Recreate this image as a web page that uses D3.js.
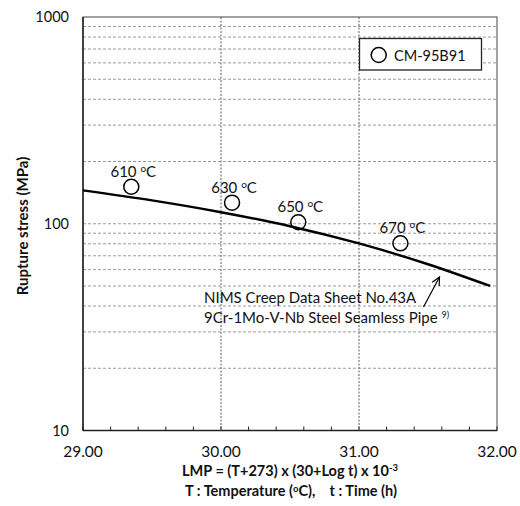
<!DOCTYPE html>
<html>
<head>
<meta charset="utf-8">
<script src="https://cdn.jsdelivr.net/npm/d3@7"></script>
<style>
  html, body { margin: 0; padding: 0; background: #fff; }
  svg { display: block; font-family: Lato, "Open Sans", sans-serif; }
</style>
</head>
<body>
<svg id="chart" width="520" height="506"></svg>
<script>
// ---- data ----
const curveLMP = [29.0, 29.5, 30.0, 30.5, 31.0, 31.5, 31.95];
const curveStress = [145, 129.7, 113.7, 97.3, 80.3, 63.7, 50.0];

const pointLMP = [29.35, 30.08, 30.56, 31.30];
const pointStress = [151, 126.5, 101.7, 80.4];
const pointTemps = ["610", "630", "650", "670"];

const xTickValues = [29, 30, 31, 32];
const xTickLabels = ["29.00", "30.00", "31.00", "32.00"];
const xMinorTicks = d3.range(29, 32.001, 0.2);
const yTickValues = [10, 100, 1000];
const yTickLabels = ["10", "100", "1000"];
const yGridValues = [20, 30, 40, 50, 60, 70, 80, 90, 100, 200, 300, 400, 500, 600, 700, 800, 900];
const xGridValues = [30, 31];

const legendLabel = "CM-95B91";
const sourceLines = ["NIMS Creep Data Sheet No.43A", "9Cr-1Mo-V-Nb Steel Seamless Pipe"];

// ---- layout ----
const svg = d3.select("#chart");
const m = { left: 83, right: 497, top: 17, bottom: 430.5 };
const x = d3.scaleLinear().domain([29, 32]).range([m.left, m.right]);
const y = d3.scaleLog().domain([10, 1000]).range([m.bottom, m.top]);

// gridlines
svg.append("g").selectAll("line").data(yGridValues).join("line")
  .attr("x1", m.left).attr("x2", m.right)
  .attr("y1", d => y(d)).attr("y2", d => y(d))
  .attr("stroke", "#9a9a9a").attr("stroke-width", 1)
  .attr("stroke-dasharray", "3,2");

svg.append("g").selectAll("line").data(xGridValues).join("line")
  .attr("x1", d => x(d)).attr("x2", d => x(d))
  .attr("y1", m.top).attr("y2", m.bottom)
  .attr("stroke", "#777").attr("stroke-width", 1.2)
  .attr("stroke-dasharray", "2,1.5");

// frame
svg.append("rect")
  .attr("x", m.left).attr("y", m.top)
  .attr("width", m.right - m.left).attr("height", m.bottom - m.top)
  .attr("fill", "none").attr("stroke", "#444").attr("stroke-width", 1);
svg.append("line").attr("x1", m.left).attr("x2", m.left).attr("y1", m.top).attr("y2", m.bottom)
  .attr("stroke", "#222").attr("stroke-width", 1.5);
svg.append("line").attr("x1", m.left).attr("x2", m.right).attr("y1", m.bottom).attr("y2", m.bottom)
  .attr("stroke", "#222").attr("stroke-width", 1.5);

// minor x ticks (inward)
svg.append("g").selectAll("line").data(xMinorTicks).join("line")
  .attr("x1", d => x(d)).attr("x2", d => x(d))
  .attr("y1", m.bottom).attr("y2", m.bottom - 4)
  .attr("stroke", "#222").attr("stroke-width", 1);

// x tick labels
svg.append("g").selectAll("text").data(xTickValues).join("text")
  .attr("x", d => x(d)).attr("y", 457)
  .attr("text-anchor", "middle").attr("font-size", 15.5).attr("fill", "#111")
  .text((d, i) => xTickLabels[i]);

// y tick labels
svg.append("g").selectAll("text").data(yTickValues).join("text")
  .attr("x", 69).attr("y", d => y(d) + 5)
  .attr("text-anchor", "end").attr("font-size", 14.5).attr("fill", "#111")
  .text((d, i) => yTickLabels[i]);

// axis titles
const xt = svg.append("text").attr("x", 290).attr("y", 476)
  .attr("text-anchor", "middle").attr("font-size", 14.5).attr("font-weight", "bold").attr("fill", "#111");
xt.append("tspan").text("LMP = (T+273) x (30+Log t) x 10");
xt.append("tspan").attr("dy", -5).attr("font-size", 9.5).text("-3");

const xt2 = svg.append("text").attr("x", 291).attr("y", 496)
  .attr("text-anchor", "middle").attr("font-size", 14.5).attr("font-weight", "bold").attr("fill", "#111")
  .attr("xml:space", "preserve");
xt2.append("tspan").text("T : Temperature (");
xt2.append("tspan").attr("dy", -4).attr("font-size", 9.5).text("o");
xt2.append("tspan").attr("dy", 4).text("C),    t : Time (h)");

svg.append("text")
  .attr("transform", `translate(28, 226) rotate(-90)`)
  .attr("text-anchor", "middle").attr("font-size", 15).attr("font-weight", "bold").attr("fill", "#111")
  .text("Rupture stress (MPa)");

// curve
const line = d3.line().x(d => x(d[0])).y(d => y(d[1])).curve(d3.curveMonotoneX);
svg.append("path")
  .datum(curveLMP.map((v, i) => [v, curveStress[i]]))
  .attr("d", line).attr("fill", "none").attr("stroke", "#000").attr("stroke-width", 2.4);

// points
svg.append("g").selectAll("circle").data(pointLMP).join("circle")
  .attr("cx", d => x(d)).attr("cy", (d, i) => y(pointStress[i]))
  .attr("r", 7.5).attr("fill", "none").attr("stroke", "#000").attr("stroke-width", 1.5);

// point labels
const pl = svg.append("g").selectAll("text").data(pointLMP).join("text")
  .attr("x", d => x(d) + 2).attr("y", (d, i) => y(pointStress[i]) - 10)
  .attr("text-anchor", "middle").attr("font-size", 15).attr("fill", "#111");
pl.append("tspan").text((d, i) => pointTemps[i] + " ");
pl.append("tspan").attr("dy", -5).attr("font-size", 10).text("o");
pl.append("tspan").attr("dy", 5).text("C");

// legend
svg.append("rect").attr("x", 359.5).attr("y", 38.5).attr("width", 122).attr("height", 31.5)
  .attr("fill", "#fff").attr("stroke", "#222").attr("stroke-width", 1.3);
svg.append("circle").attr("cx", 378.7).attr("cy", 55).attr("r", 7.5)
  .attr("fill", "none").attr("stroke", "#000").attr("stroke-width", 1.5);
svg.append("text").attr("x", 394).attr("y", 60.5).attr("font-size", 14.5).attr("fill", "#111").text(legendLabel);

// source annotation
svg.append("text").attr("x", 204).attr("y", 303).attr("font-size", 15).attr("fill", "#111").text(sourceLines[0]);
const s2 = svg.append("text").attr("x", 204).attr("y", 322.5).attr("font-size", 15).attr("fill", "#111");
s2.append("tspan").text(sourceLines[1] + " ");
s2.append("tspan").attr("dy", -5).attr("font-size", 9).text("9)");

// arrow
const ax0 = 423.5, ay0 = 307, ax1 = 439.5, ay1 = 277;
svg.append("line").attr("x1", ax0).attr("y1", ay0).attr("x2", ax1).attr("y2", ay1)
  .attr("stroke", "#000").attr("stroke-width", 1.2);
const ang = Math.atan2(ay1 - ay0, ax1 - ax0);
const hl = 9, ha = 0.45;
svg.append("path")
  .attr("d", `M${ax1 - hl * Math.cos(ang - ha)},${ay1 - hl * Math.sin(ang - ha)} L${ax1},${ay1} L${ax1 - hl * Math.cos(ang + ha)},${ay1 - hl * Math.sin(ang + ha)}`)
  .attr("fill", "none").attr("stroke", "#000").attr("stroke-width", 1.2);
</script>
</body>
</html>
